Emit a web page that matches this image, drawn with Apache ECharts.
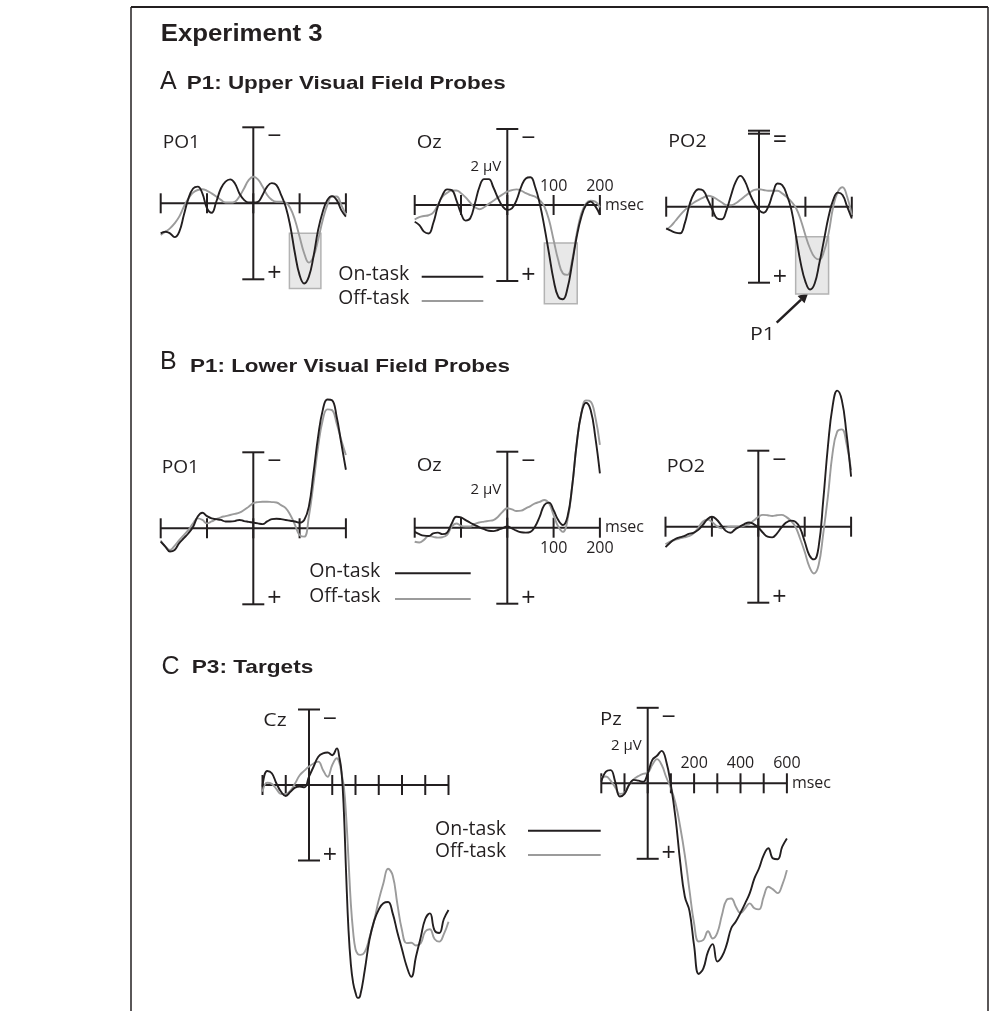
<!DOCTYPE html>
<html>
<head>
<meta charset="utf-8">
<script src="https://cdn.jsdelivr.net/npm/echarts@6/dist/echarts.min.js"></script>
<style>
html, body { margin: 0; padding: 0; background: #fff; }
#main { width: 1001px; height: 1011px; }
</style>
</head>
<body>
<div id="main"></div>
<script>
// sample times (ms)
var timeAB = [-200,-190,-180,-170,-160,-150,-140,-130,-120,-110,-100,-90,-80,-70,-60,-50,-40,-30,-20,-10,
              0,10,20,30,40,50,60,70,80,90,100,110,120,130,140,150,160,170,180,190,200];
var timeCz = [-200,-180,-160,-140,-120,-100,-80,-60,-40,-20,0,20,40,60,80,100,120,
              130,140,150,160,170,180,190,200,210,220,
              240,260,280,300,320,340,360,380,400,420,440,460,480,500,520,540,560,580,600];
var timePz = [-200,-180,-160,-140,-120,-100,-80,-60,-40,-20,0,20,40,60,80,100,120,140,160,180,
              200,220,240,260,280,300,320,340,360,380,400,420,440,460,480,500,520,540,560,580,600];

// amplitudes in microvolts (negative = up)
var upperPO1On  = [0.79,0.75,0.79,0.89,0.75,0.31,-0.13,-0.39,-0.44,-0.26,0.13,0.25,-0.04,-0.39,-0.57,-0.63,-0.53,-0.26,-0.09,-0.02,
                   -0.02,-0.04,-0.22,-0.44,-0.53,-0.48,-0.22,0.09,0.61,1.32,1.89,2.11,1.93,1.40,0.70,0.22,-0.09,-0.19,-0.09,0.18,0.35];
var upperPO1Off = [0.83,0.75,0.66,0.53,0.35,0.09,-0.13,-0.28,-0.35,-0.37,-0.33,-0.26,-0.18,-0.09,-0.02,-0.02,-0.04,-0.18,-0.39,-0.61,
                   -0.70,-0.63,-0.44,-0.22,-0.09,-0.04,-0.04,-0.02,0.13,0.44,0.88,1.32,1.56,1.40,0.96,0.44,0.04,-0.18,-0.18,0.04,0.31];
var upperOzOn   = [0.44,0.53,0.70,0.75,0.48,0.04,-0.26,-0.41,-0.39,-0.13,0.22,0.41,0.35,-0.04,-0.48,-0.68,-0.68,-0.46,-0.18,0.04,
                   0.13,0.09,-0.13,-0.48,-0.70,-0.73,-0.48,-0.04,0.57,1.27,1.97,2.41,2.48,2.19,1.54,0.83,0.31,0.00,-0.09,0.03,0.26];
var upperOzOff  = [0.38,0.32,0.29,0.27,0.20,0.00,-0.22,-0.32,-0.38,-0.38,-0.31,-0.20,-0.06,0.06,0.11,0.06,-0.03,-0.11,-0.20,-0.28,
                   -0.35,-0.39,-0.41,-0.38,-0.31,-0.26,-0.22,-0.13,0.04,0.39,0.92,1.45,1.80,1.84,1.45,0.75,0.22,-0.04,-0.11,-0.09,0.06];
var upperPO2On  = [0.57,0.63,0.68,0.70,0.44,-0.04,-0.35,-0.46,-0.42,-0.18,0.09,0.31,0.33,0.09,-0.31,-0.66,-0.81,-0.66,-0.35,-0.09,
                   0.09,0.16,0.00,-0.35,-0.61,-0.57,-0.31,0.09,0.79,1.49,1.97,2.18,2.02,1.49,0.88,0.26,-0.18,-0.37,-0.31,0.00,0.31];
var upperPO2Off = [0.60,0.51,0.37,0.22,0.09,-0.02,-0.11,-0.18,-0.24,-0.29,-0.26,-0.19,-0.11,-0.04,-0.04,-0.09,-0.18,-0.28,-0.37,-0.44,
                   -0.46,-0.44,-0.42,-0.42,-0.42,-0.35,-0.25,-0.13,0.04,0.35,0.75,1.10,1.33,1.39,1.18,0.70,0.00,-0.39,-0.51,-0.26,0.22];

var lowerPO1On  = [0.35,0.48,0.61,0.57,0.39,0.26,0.13,-0.04,-0.31,-0.41,-0.32,-0.26,-0.24,-0.22,-0.18,-0.18,-0.19,-0.22,-0.19,-0.17,
                   -0.15,-0.13,-0.11,-0.18,-0.24,-0.25,-0.24,-0.22,-0.20,-0.18,-0.15,-0.22,-0.57,-1.45,-2.41,-3.11,-3.39,-3.37,-2.94,-2.24,-1.54];
var lowerPO1Off = [0.32,0.48,0.57,0.46,0.31,0.18,0.04,-0.13,-0.26,-0.22,-0.13,-0.18,-0.24,-0.29,-0.32,-0.35,-0.38,-0.41,-0.48,-0.57,
                   -0.66,-0.69,-0.70,-0.70,-0.69,-0.68,-0.61,-0.53,-0.35,-0.09,0.18,0.22,-0.31,-1.18,-2.15,-2.85,-3.13,-3.11,-2.76,-2.32,-1.93];
var lowerOzOn   = [0.11,0.17,0.21,0.22,0.15,0.13,0.17,0.13,-0.11,-0.29,-0.27,-0.20,-0.13,-0.07,-0.01,0.04,0.08,0.09,0.06,0.01,
                   -0.03,0.02,0.08,0.12,0.13,0.11,-0.03,-0.29,-0.60,-0.66,-0.46,-0.20,-0.07,-0.29,-1.08,-2.22,-3.01,-3.29,-3.10,-2.39,-1.43];
var lowerOzOff  = [0.37,0.39,0.32,0.22,0.24,0.26,0.25,0.19,-0.03,-0.11,-0.05,-0.03,-0.03,-0.10,-0.14,-0.16,-0.18,-0.20,-0.29,-0.42,
                   -0.51,-0.48,-0.44,-0.45,-0.51,-0.57,-0.64,-0.68,-0.73,-0.64,-0.33,-0.03,0.11,-0.20,-1.08,-2.22,-3.01,-3.35,-3.32,-2.92,-2.18];
var lowerPO2On  = [0.54,0.42,0.33,0.28,0.25,0.19,0.16,0.09,-0.04,-0.19,-0.26,-0.19,-0.04,0.11,0.16,0.07,0.00,-0.07,-0.11,-0.07,
                   0.02,0.16,0.26,0.28,0.18,0.02,-0.11,-0.16,-0.13,0.04,0.39,0.75,0.86,0.53,-0.70,-2.11,-3.16,-3.58,-3.33,-2.46,-1.32];
var lowerPO2Off = [0.46,0.39,0.35,0.31,0.28,0.25,0.18,0.04,-0.13,-0.19,-0.13,-0.02,0.04,0.02,0.00,0.00,0.00,-0.03,-0.07,-0.16,
                   -0.26,-0.31,-0.30,-0.28,-0.30,-0.31,-0.26,-0.16,0.00,0.31,0.66,1.05,1.23,1.01,0.18,-0.79,-1.93,-2.50,-2.56,-2.19,-1.49];

var targetCzOn  = [0.04,-0.37,-0.31,-0.04,0.18,0.29,0.18,0.07,0.04,0.06,-0.22,-0.49,-0.75,-0.84,-0.86,-0.79,-0.97,
                   -0.75,-0.35,0.70,2.40,3.85,4.75,5.25,5.50,5.64,5.58,
                   4.90,4.10,3.60,3.30,3.13,3.10,3.40,3.90,4.35,4.80,5.08,4.55,4.05,3.55,3.40,3.85,3.92,3.55,3.31];
var targetCzOff = [0.18,-0.06,-0.03,0.11,0.24,0.24,0.15,-0.04,-0.26,-0.38,-0.49,-0.57,-0.62,-0.40,-0.22,-0.53,-0.71,
                   -0.60,-0.30,0.05,0.85,1.98,3.15,3.90,4.35,4.48,4.50,
                   4.42,4.05,3.60,3.05,2.60,2.22,2.40,3.15,3.85,4.19,4.18,4.25,4.20,3.88,3.82,4.08,4.15,3.95,3.62];
var targetPzOn  = [-0.04,-0.31,-0.35,-0.04,0.35,0.28,0.04,-0.09,-0.07,-0.04,-0.26,-0.62,-0.73,-0.86,-0.58,0.05,0.92,2.08,3.00,3.38,
                   4.30,5.05,4.90,4.46,4.26,4.72,4.59,4.28,3.84,3.66,3.43,3.18,2.91,2.52,2.25,1.90,1.72,1.99,2.01,1.68,1.46];
var targetPzOff = [-0.16,-0.18,-0.07,0.11,0.28,0.25,0.04,-0.11,-0.19,-0.25,-0.28,-0.49,-0.64,-0.49,-0.16,0.13,0.53,1.15,1.90,2.83,
                   3.71,4.19,4.15,3.92,4.11,3.96,3.49,3.09,3.05,3.27,3.44,3.31,3.18,3.31,3.34,3.00,2.74,2.81,2.91,2.69,2.30];

// axis ticks and labels
var ticksAB = [-200,-100,0,100,200];
var ticksC = [-200,-100,0,100,200,300,400,500,600];
var uvTicks = [-2, 2];
var labelTicksAB = [100, 200];
var labelTicksC = [200, 400, 600];
var scaleText = '2 \u03bcV';
var unitText = 'msec';

// shaded P1 windows: [t start, t end, uV top, uV bottom]
var boxUpperPO1 = [78, 146, 0.79, 2.24];
var boxUpperOz  = [80, 151, 1.00, 2.60];
var boxUpperPO2 = [79, 150, 0.79, 2.30];

var ink = '#231f20';
var grey = '#9b9b9b';
var fontLabel = '"Open Sans", "DejaVu Sans", sans-serif';

// y range per row (uV), kept inside the page
var yRangeAB = [-5, 5];
var yRangeC = [-3, 5.9];

var panels = [
  {x0: 253.3, y0: 203.3, pxMs: 0.463, pxUv: 38, ticks: ticksAB, xr: [-210, 210], yr: yRangeAB, time: timeAB, on: upperPO1On, off: upperPO1Off, box: boxUpperPO1},
  {x0: 507.3, y0: 205.0, pxMs: 0.463, pxUv: 38, ticks: ticksAB, xr: [-210, 210], yr: yRangeAB, time: timeAB, on: upperOzOn, off: upperOzOff, box: boxUpperOz,
   scale: true, labels: labelTicksAB, labelDy: -19},
  {x0: 759.0, y0: 206.7, pxMs: 0.464, pxUv: 38, ticks: ticksAB, xr: [-210, 210], yr: yRangeAB, time: timeAB, on: upperPO2On, off: upperPO2Off, box: boxUpperPO2,
   doubleTop: true},
  {x0: 253.3, y0: 528.3, pxMs: 0.463, pxUv: 38, ticks: ticksAB, xr: [-210, 210], yr: yRangeAB, time: timeAB, on: lowerPO1On, off: lowerPO1Off},
  {x0: 507.3, y0: 527.7, pxMs: 0.463, pxUv: 38, ticks: ticksAB, xr: [-210, 210], yr: yRangeAB, time: timeAB, on: lowerOzOn, off: lowerOzOff,
   scale: true, labels: labelTicksAB, labelDy: 21},
  {x0: 758.3, y0: 526.7, pxMs: 0.464, pxUv: 38, ticks: ticksAB, xr: [-210, 210], yr: yRangeAB, time: timeAB, on: lowerPO2On, off: lowerPO2Off},
  {x0: 309.0, y0: 785.0, pxMs: 0.2325, pxUv: 37.75, ticks: ticksC, xr: [-210, 610], yr: yRangeC, time: timeCz, on: targetCzOn, off: targetCzOff},
  {x0: 647.7, y0: 783.3, pxMs: 0.232, pxUv: 37.75, ticks: ticksC, xr: [-210, 610], yr: yRangeC, time: timePz, on: targetPzOn, off: targetPzOff,
   scale: true, labels: labelTicksC, labelDy: -20}
];

function pairs(ts, vs) {
  return ts.map(function (t, i) { return [t, vs[i]]; });
}

function axisRenderer(p) {
  return function (params, api) {
    var t = api.value(0);
    var c = api.coord([t, 0]);
    var st = {stroke: ink, lineWidth: 2};
    var kids = [{type: 'line', shape: {x1: c[0], y1: c[1] - 10, x2: c[0], y2: c[1] + 10}, style: st}];
    if (params.dataIndex === 0) {
      var a = api.coord([p.ticks[0], 0]);
      var b = api.coord([p.ticks[p.ticks.length - 1], 0]);
      var top = api.coord([0, uvTicks[0]]);
      var bot = api.coord([0, uvTicks[1]]);
      kids.push({type: 'line', shape: {x1: a[0], y1: a[1], x2: b[0], y2: b[1]}, style: st});
      kids.push({type: 'line', shape: {x1: top[0], y1: top[1], x2: bot[0], y2: bot[1]}, style: st});
      kids.push({type: 'line', shape: {x1: top[0] - 11, y1: top[1], x2: top[0] + 11, y2: top[1]}, style: st});
      kids.push({type: 'line', shape: {x1: bot[0] - 11, y1: bot[1], x2: bot[0] + 11, y2: bot[1]}, style: st});
      if (p.doubleTop) {
        kids.push({type: 'line', shape: {x1: top[0] - 11, y1: top[1] + 3, x2: top[0] + 11, y2: top[1] + 3}, style: st});
      }
      kids.push({type: 'text', x: top[0] + 21, y: top[1] + 10,
        style: {text: p.doubleTop ? '=' : '\u2212', font: '25px ' + fontLabel, fill: ink, textAlign: 'center', textVerticalAlign: 'middle'}});
      kids.push({type: 'text', x: bot[0] + 21, y: bot[1] - 5,
        style: {text: '+', font: '25px ' + fontLabel, fill: ink, textAlign: 'center', textVerticalAlign: 'middle'}});
      if (p.scale) {
        var s = api.coord([0, -1]);
        kids.push({type: 'text', x: s[0] - 6, y: s[1],
          style: {text: scaleText, font: '15px ' + fontLabel, fill: ink, textAlign: 'right', textVerticalAlign: 'middle'}});
      }
      if (p.labels) {
        p.labels.forEach(function (v) {
          var q = api.coord([v, 0]);
          kids.push({type: 'text', x: q[0], y: q[1] + p.labelDy,
            style: {text: String(v), font: '16px ' + fontLabel, fill: ink, textAlign: 'center', textVerticalAlign: 'middle'}});
        });
        kids.push({type: 'text', x: b[0] + 5, y: b[1],
          style: {text: unitText, font: '16px ' + fontLabel, fill: ink, textAlign: 'left', textVerticalAlign: 'middle'}});
      }
    }
    return {type: 'group', children: kids};
  };
}

function boxRenderer(params, api) {
  var p1 = api.coord([api.value(0), api.value(2)]);
  var p2 = api.coord([api.value(1), api.value(3)]);
  return {type: 'rect', shape: {x: p1[0], y: p1[1], width: p2[0] - p1[0], height: p2[1] - p1[1]},
    style: {fill: '#e8e8e8', stroke: '#b3b3b3', lineWidth: 1.5}};
}

var grids = [], xAxes = [], yAxes = [], series = [];
panels.forEach(function (p, i) {
  grids.push({
    left: p.x0 + p.xr[0] * p.pxMs,
    top: p.y0 + p.yr[0] * p.pxUv,
    width: (p.xr[1] - p.xr[0]) * p.pxMs,
    height: (p.yr[1] - p.yr[0]) * p.pxUv
  });
  xAxes.push({gridIndex: i, type: 'value', min: p.xr[0], max: p.xr[1], show: false});
  yAxes.push({gridIndex: i, type: 'value', min: p.yr[0], max: p.yr[1], inverse: true, show: false});
  if (p.box) {
    series.push({type: 'custom', xAxisIndex: i, yAxisIndex: i, z: 1, silent: true,
      encode: {x: [0, 1], y: [2, 3]}, data: [p.box], renderItem: boxRenderer});
  }
  series.push({type: 'custom', xAxisIndex: i, yAxisIndex: i, z: 2, silent: true,
    data: p.ticks.map(function (t) { return [t, 0]; }), renderItem: axisRenderer(p)});
  series.push({type: 'line', name: 'Off-task', xAxisIndex: i, yAxisIndex: i, z: 3, smooth: 0.45,
    showSymbol: false, lineStyle: {color: grey, width: 1.9}, data: pairs(p.time, p.off)});
  series.push({type: 'line', name: 'On-task', xAxisIndex: i, yAxisIndex: i, z: 4, smooth: 0.45,
    showSymbol: false, lineStyle: {color: ink, width: 1.9}, data: pairs(p.time, p.on)});
});

// text helpers
var ctx = document.createElement('canvas').getContext('2d');
function txt(x, y, text, size, o) {
  o = o || {};
  var font = (o.weight || 'normal') + ' ' + size + 'px ' + (o.family || fontLabel);
  var sx = 1;
  if (o.width) { ctx.font = font; sx = o.width / ctx.measureText(text).width; }
  return {type: 'text', x: x, y: y, scaleX: sx, silent: true,
    style: {text: text, x: 0, y: 0, font: font, fill: o.color || ink, textAlign: o.align || 'left', textVerticalAlign: 'middle'}};
}
function seg(x1, y1, x2, y2, color, w) {
  return {type: 'line', silent: true, shape: {x1: x1, y1: y1, x2: x2, y2: y2}, style: {stroke: color, lineWidth: w}};
}
var head = '"Liberation Sans", Arial, sans-serif';

var graphics = [
  // frame
  seg(131, 7, 988, 7, ink, 2),
  seg(131, 7, 131, 1011, ink, 1.5),
  seg(988, 7, 988, 1011, ink, 1.5),
  // headings
  txt(160.7, 34.5, 'Experiment 3', 24, {weight: 'bold', family: head, width: 162}),
  txt(160, 82, 'A', 25, {family: head}),
  txt(186.7, 84, 'P1: Upper Visual Field Probes', 19, {weight: 'bold', family: head, width: 319}),
  txt(160, 362.5, 'B', 25, {family: head}),
  txt(190, 366.5, 'P1: Lower Visual Field Probes', 19, {weight: 'bold', family: head, width: 320}),
  txt(161.5, 667, 'C', 25, {family: head}),
  txt(191.7, 667.5, 'P3: Targets', 19, {weight: 'bold', family: head, width: 121.6}),
  // electrode names
  txt(162.7, 142.5, 'PO1', 19, {width: 37.3}),
  txt(416.7, 142.5, 'Oz', 19, {width: 25}),
  txt(668.3, 142, 'PO2', 19, {width: 38.3}),
  txt(161.7, 467.5, 'PO1', 19, {width: 37.3}),
  txt(416.7, 466, 'Oz', 19, {width: 25}),
  txt(666.7, 466.7, 'PO2', 19, {width: 38.3}),
  txt(263.3, 721, 'Cz', 19, {width: 23.3}),
  txt(600, 720, 'Pz', 19, {width: 21.7}),
  // legends
  txt(338.3, 274.5, 'On-task', 20, {width: 71}),
  txt(338.3, 298, 'Off-task', 20, {width: 71}),
  seg(421.7, 276.7, 483.3, 276.7, ink, 2),
  seg(421.7, 301, 483.3, 301, grey, 2),
  txt(309.3, 571.3, 'On-task', 20, {width: 71}),
  txt(309.3, 596.3, 'Off-task', 20, {width: 71}),
  seg(395, 573.3, 470.7, 573.3, ink, 2),
  seg(395, 599, 470.7, 599, grey, 2),
  txt(435, 829.7, 'On-task', 20, {width: 71}),
  txt(435, 851, 'Off-task', 20, {width: 71}),
  seg(528, 830.7, 600.7, 830.7, ink, 2),
  seg(528, 855, 600.7, 855, grey, 2),
  // P1 pointer
  txt(750, 335, 'P1', 19, {width: 25}),
  seg(776.7, 322.7, 801.1, 299.6, ink, 2.5),
  {type: 'polygon', silent: true, shape: {points: [[808.3, 292.7], [804.5, 303.2], [797.6, 296.0]]}, style: {fill: ink}}
];

var chart = echarts.init(document.getElementById('main'), null, {renderer: 'canvas'});
chart.setOption({
  animation: false,
  backgroundColor: '#fff',
  grid: grids,
  xAxis: xAxes,
  yAxis: yAxes,
  series: series,
  graphic: graphics
});
</script>
</body>
</html>
